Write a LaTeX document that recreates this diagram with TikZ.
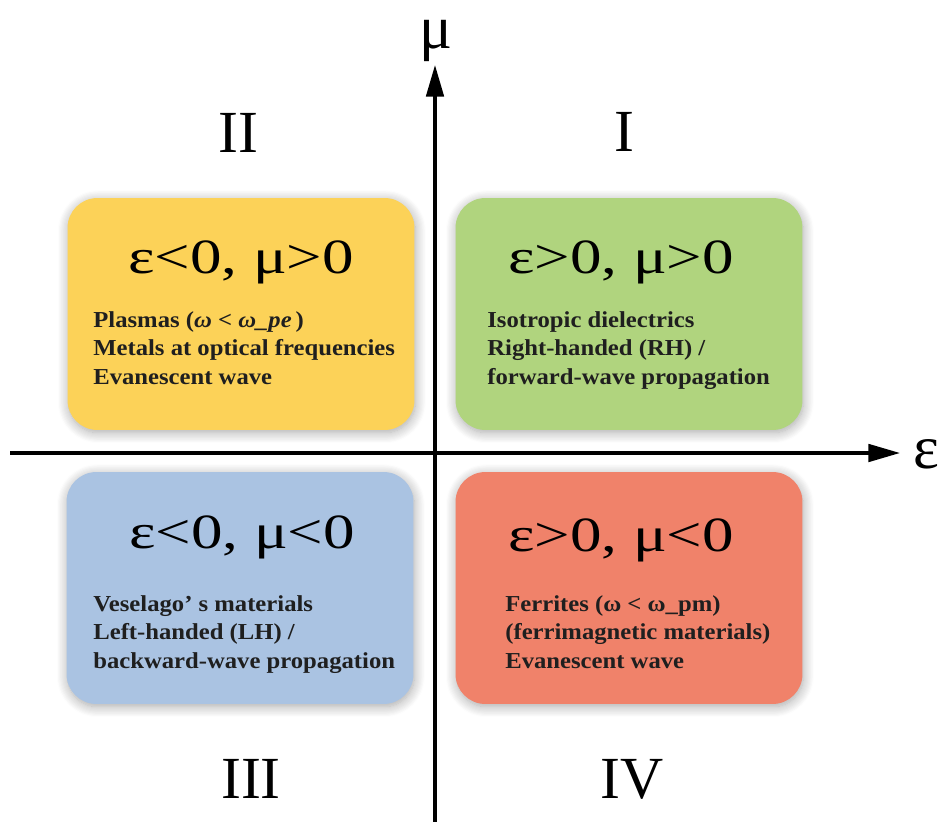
\documentclass[tikz,border=0pt]{standalone}
\usepackage{fontspec}
\setmainfont{Liberation Serif}
\newfontfamily\widefont[FakeStretch=1.08]{Liberation Serif}
\newfontfamily\condfont[FakeStretch=1.28]{Liberation Serif}
\usetikzlibrary{arrows.meta, shadows.blur}

\definecolor{quadyellow}{RGB}{252,210,88}
\definecolor{quadgreen}{RGB}{176,212,126}
\definecolor{quadblue}{RGB}{170,195,226}
\definecolor{quadred}{RGB}{240,130,106}

\begin{document}
\begin{tikzpicture}[
    x=0.02cm, y=-0.02cm,
    quad/.style={rectangle, rounded corners=17pt, minimum width=6.94cm, minimum height=4.64cm, inner sep=0pt,
        blur shadow={shadow blur steps=10, shadow xshift=0.5pt, shadow yshift=-1.5pt, shadow blur radius=6pt, shadow opacity=35}},
    cond/.style={anchor=base, inner sep=0pt, font=\condfont\fontsize{28}{34}\selectfont},
    info/.style={anchor=base west, align=left, inner sep=0pt, text=black!88, font=\widefont\fontsize{13}{16}\selectfont\bfseries},
    roman/.style={anchor=base, inner sep=0pt, font=\fontsize{34}{40}\selectfont},
    axislabel/.style={inner sep=0pt, font=\fontsize{35}{40}\selectfont},
    axis/.style={line width=1.8pt, -{Triangle[length=18pt, width=10pt]}}
]
\useasboundingbox (0,0) rectangle (944,822);

% quadrant boxes
\node[quad, fill=quadyellow] (q2) at (241,314) {};
\node[quad, fill=quadgreen] (q1) at (629,314) {};
\node[quad, fill=quadblue] (q3) at (240,588) {};
\node[quad, fill=quadred] (q4) at (629,588) {};

% axes
\coordinate (xstart) at (10,453);
\coordinate (xend) at (900,453);
\coordinate (ystart) at (435,822);
\coordinate (yend) at (435,65);
\draw[axis] (xstart) -- (xend);
\draw[axis] (ystart) -- (yend);
\node[axislabel, anchor=base west] (epslabel) at (913,468) {ε};
\node[axislabel, anchor=base] (mulabel) at (436,48) {μ};

% quadrant numbers
\node[roman] (r2) at (238,152) {II};
\node[roman] (r1) at (624,151) {I};
\node[roman] (r3) at (251,798) {III};
\node[roman] (r4) at (632,798) {IV};

% sign conditions
\node[cond] (c2) at (241,273) {ε<0, μ>0};
\node[cond] (c1) at (621,273) {ε>0, μ>0};
\node[cond] (c3) at (242,548) {ε<0, μ<0};
\node[cond] (c4) at (621,551) {ε>0, μ<0};

% descriptions (anchored at the last line)
\node[info] (t2) at (93,384) {Plasmas (\textit{ω < ω\_pe\,})\\Metals at optical frequencies\\Evanescent wave};
\node[info] (t1) at (487,384) {Isotropic dielectrics\\Right-handed (RH) /\\forward-wave propagation};
\node[info] (t3) at (93,668) {Veselago’ s materials\\Left-handed (LH) /\\backward-wave propagation};
\node[info] (t4) at (505,668) {Ferrites (ω < ω\_pm)\\(ferrimagnetic materials)\\Evanescent wave};

\end{tikzpicture}
\end{document}
